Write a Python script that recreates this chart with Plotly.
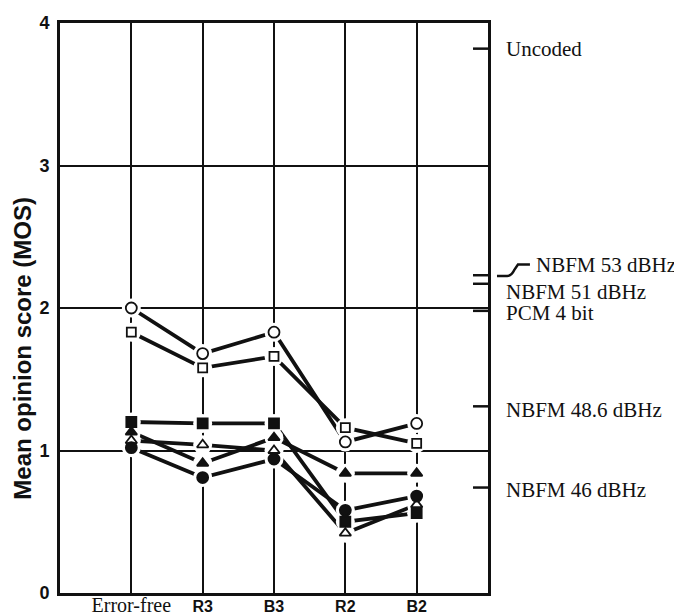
import plotly.graph_objects as go

# ---- data ----
categories = ["Error-free", "R3", "B3", "R2", "B2"]
cat_pos = [1, 2, 3, 4, 5]

open_circle = [2.00, 1.68, 1.83, 1.06, 1.19]
open_square = [1.83, 1.58, 1.66, 1.16, 1.05]
filled_square = [1.20, 1.19, 1.19, 0.50, 0.56]
filled_triangle = [1.13, 0.91, 1.09, 0.84, 0.84]
open_triangle = [1.07, 1.04, 1.00, 0.42, 0.62]
filled_circle = [1.02, 0.81, 0.94, 0.58, 0.68]

ref_labels = ["Uncoded", "NBFM 53 dBHz", "NBFM 51 dBHz", "PCM 4 bit",
              "NBFM 48.6 dBHz", "NBFM 46 dBHz"]
ref_values = [3.82, 2.23, 2.17, 1.98, 1.31, 0.74]

y_ticks = [0, 1, 2, 3, 4]

# ---- styles ----
series = [
    (open_circle, "circle-open", 11),
    (open_square, "square-open", 9),
    (filled_square, "square", 10),
    (filled_triangle, "triangle-up", 10),
    (open_triangle, "triangle-up-open", 10),
    (filled_circle, "circle", 11),
]
ref_yshift = [0, 10, -8, -2, -4, -2]
ref_x = [1.037, 1.108, 1.037, 1.037, 1.037, 1.037]

fig = go.Figure()

# lines
for vals, sym, sz in series:
    fig.add_trace(go.Scatter(x=cat_pos, y=vals, mode="lines",
                             line=dict(color="#111", width=3.8),
                             hoverinfo="skip", showlegend=False))
# white masks producing the gaps around markers
for vals, sym, sz in series:
    fig.add_trace(go.Scatter(x=cat_pos, y=vals, mode="markers",
                             marker=dict(symbol="circle", size=19, color="white",
                                         line=dict(width=0)),
                             hoverinfo="skip", showlegend=False))
# markers
for vals, sym, sz in series:
    fig.add_trace(go.Scatter(x=cat_pos, y=vals, mode="markers",
                             marker=dict(symbol=sym, size=sz, color="#111",
                                         line=dict(color="#111", width=1.8)),
                             showlegend=False))

serif = "Liberation Serif"
sans = "Liberation Sans"

ticktext = []
for c in categories:
    if c == "Error-free":
        ticktext.append("<span style='font-family:Liberation Serif;font-weight:normal;font-size:20px'>%s</span>" % c)
    else:
        ticktext.append(c)

# page body has an 8px margin: compensate so the plot lands where the reference has it
fig.update_layout(
    width=674, height=608,
    margin=dict(l=52, r=194, t=15, b=23),
    plot_bgcolor="white", paper_bgcolor="white",
    xaxis=dict(range=[0, 6], tickvals=cat_pos, ticktext=ticktext,
               showgrid=True, gridcolor="#111", gridwidth=2,
               showline=True, linecolor="#111", linewidth=3, mirror=True,
               zeroline=False, ticks="", automargin=False, ticklabelstandoff=-3,
               tickfont=dict(family=sans, size=16, color="#111", weight="bold")),
    yaxis=dict(range=[0, 4], tickvals=y_ticks, ticktext=[str(v) for v in y_ticks],
               showgrid=True, gridcolor="#111", gridwidth=2,
               showline=True, linecolor="#111", linewidth=3, mirror=True,
               zeroline=False, ticks="", automargin=False, ticklabelstandoff=4,
               tickfont=dict(family=sans, size=18, color="#111", weight="bold")),
)

# y-axis title
fig.add_annotation(text="Mean opinion score (MOS)", xref="paper", yref="y",
                   x=-0.087, y=1.72, textangle=-90, showarrow=False,
                   xanchor="center", yanchor="middle",
                   font=dict(family=sans, size=24, color="#111", weight="bold"))

# reference level ticks and labels
for lab, v, ys, xx in zip(ref_labels, ref_values, ref_yshift, ref_x):
    fig.add_shape(type="line", xref="paper", yref="y", x0=0.965, x1=1.0,
                  y0=v, y1=v, line=dict(color="#111", width=2.5))
    fig.add_annotation(text=lab, xref="paper", yref="y", x=xx, y=v, yshift=ys,
                       xanchor="left", showarrow=False,
                       font=dict(family=serif, size=21, color="#111"))

# leader line for NBFM 53 dBHz
v53 = ref_values[1]
fig.add_shape(type="path", xref="paper", yref="y",
              path="M 1.021 %f L 1.045 %f Q 1.055 %f 1.062 %f L 1.070 %f L 1.098 %f" % (
                  v53 - 0.005, v53 - 0.005, v53 - 0.005, v53 + 0.04, v53 + 0.075, v53 + 0.075),
              line=dict(color="#111", width=2.5))

fig.write_html("out.html")
